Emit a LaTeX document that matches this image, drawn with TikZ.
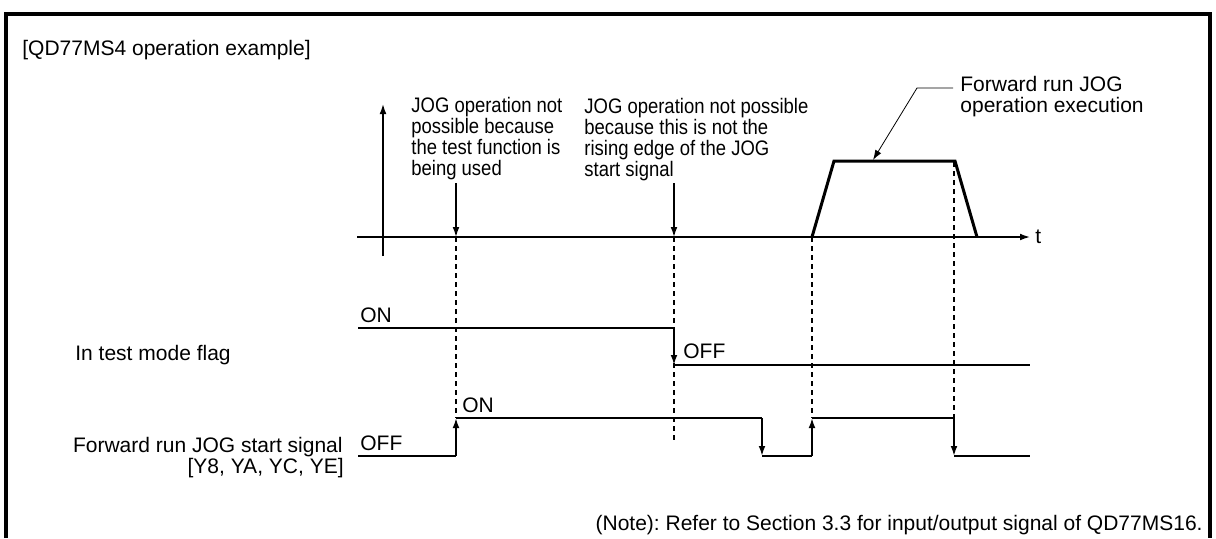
\documentclass[tikz,border=0pt]{standalone}
\usepackage{fontspec}
\setmainfont{Liberation Sans}
\newfontfamily\narrowsans{Liberation Sans}[FakeStretch=0.88]
\usetikzlibrary{arrows.meta}
\begin{document}
\frenchspacing
\begin{tikzpicture}[x=0.5pt,y=-0.5pt,
  txt/.style={font=\fontsize{10.5pt}{10.5pt}\selectfont, inner sep=0pt, align=left},
  small/.style={font=\narrowsans\fontsize{10.5pt}{10.5pt}\selectfont, inner sep=0pt, align=left},
  frame/.style={line width=2pt},
  axis/.style={line width=0.7pt},
  sig/.style={line width=0.9pt},
  tip/.style={-{Latex[length=5pt,width=3.4pt]}},
  guide/.style={line width=0.6pt, dash pattern=on 2.5pt off 2pt},
  motion/.style={line width=1.5pt, line join=miter},
  leader/.style={line width=0.4pt}]
\useasboundingbox (0,0) rectangle (1216,538);
% frame (open at the bottom)
\draw[frame] (6.3,538) -- (6.3,13.5) -- (1210.3,13.5) -- (1210.3,538);
\node[txt,anchor=base west] (title) at (22,55) {[QD77MS4 operation example]};
% axes
\coordinate (yb) at (383,256); \coordinate (yt) at (383,104);
\coordinate (xl) at (357,237); \coordinate (xr) at (1030,237);
\draw[axis,tip] (yb) -- (yt);
\draw[axis,tip] (xl) -- (xr);
\node[txt,anchor=base west] (t) at (1035,243) {t};
% annotations
\node[small,anchor=north west] (n1) at (411,97) {JOG operation not\\possible because\\the test function is\\being used};
\node[small,anchor=north west] (n2) at (584,98) {JOG operation not possible\\because this is not the\\rising edge of the JOG\\start signal};
\coordinate (a1s) at (456,183); \coordinate (a1e) at (456,237);
\coordinate (a2s) at (674,183); \coordinate (a2e) at (674,237);
\draw[axis,tip] (a1s) -- (a1e);
\draw[axis,tip] (a2s) -- (a2e);
% motion trapezoid
\coordinate (m0) at (812,237); \coordinate (m1) at (834,161);
\coordinate (m2) at (955,161); \coordinate (m3) at (977,237);
\draw[motion] (m0) -- (m1) -- (m2) -- (m3);
\node[txt,anchor=north west] (fw) at (960,76) {Forward run JOG\\operation execution};
\coordinate (l0) at (953,88); \coordinate (l1) at (917,88); \coordinate (l2) at (873,160);
\draw[leader,tip] (l0) -- (l1) -- (l2);
% guide lines
\draw[guide] (456,237) -- (456,418);
\draw[guide] (674,237) -- (674,440);
\draw[guide] (812,237) -- (812,418);
\draw[guide] (954,162) -- (954,418);
% signal labels
\node[txt,anchor=base west] (flag) at (75,360) {In test mode flag};
\node[txt,anchor=base east] (fwd) at (343,452) {Forward run JOG start signal};
\node[txt,anchor=base east] (fwd2) at (344,473) {[Y8, YA, YC, YE]};
% in test mode flag
\coordinate (f0) at (358,328); \coordinate (f1) at (674,328);
\coordinate (f2) at (674,365); \coordinate (f3) at (1030,365);
\draw[sig] (f0) -- (f1);
\draw[sig,tip] (f1) -- (f2);
\draw[sig] (f2) -- (f3);
\node[txt,anchor=base west] (fon) at (360,322) {ON};
\node[txt,anchor=base west] (foff) at (683,358) {OFF};
% start signal
\coordinate (s0) at (358,456); \coordinate (s1) at (456,456);
\coordinate (s2) at (456,418); \coordinate (s3) at (762,418);
\coordinate (s4) at (762,456); \coordinate (s5) at (812,456);
\coordinate (s6) at (812,418); \coordinate (s7) at (954,418);
\coordinate (s8) at (954,456); \coordinate (s9) at (1030,456);
\draw[sig] (s0) -- (s1);
\draw[sig,tip] (s1) -- (s2);
\draw[sig] (s2) -- (s3);
\draw[sig,tip] (s3) -- (s4);
\draw[sig] (s4) -- (s5);
\draw[sig,tip] (s5) -- (s6);
\draw[sig] (s6) -- (s7);
\draw[sig,tip] (s7) -- (s8);
\draw[sig] (s8) -- (s9);
\node[txt,anchor=base west] (son) at (462,412) {ON};
\node[txt,anchor=base west] (soff) at (360,450) {OFF};
% note
\node[txt,anchor=base east] (note) at (1203,530) {(Note): Refer to Section 3.3 for input/output signal of QD77MS16.};
\end{tikzpicture}
\end{document}
